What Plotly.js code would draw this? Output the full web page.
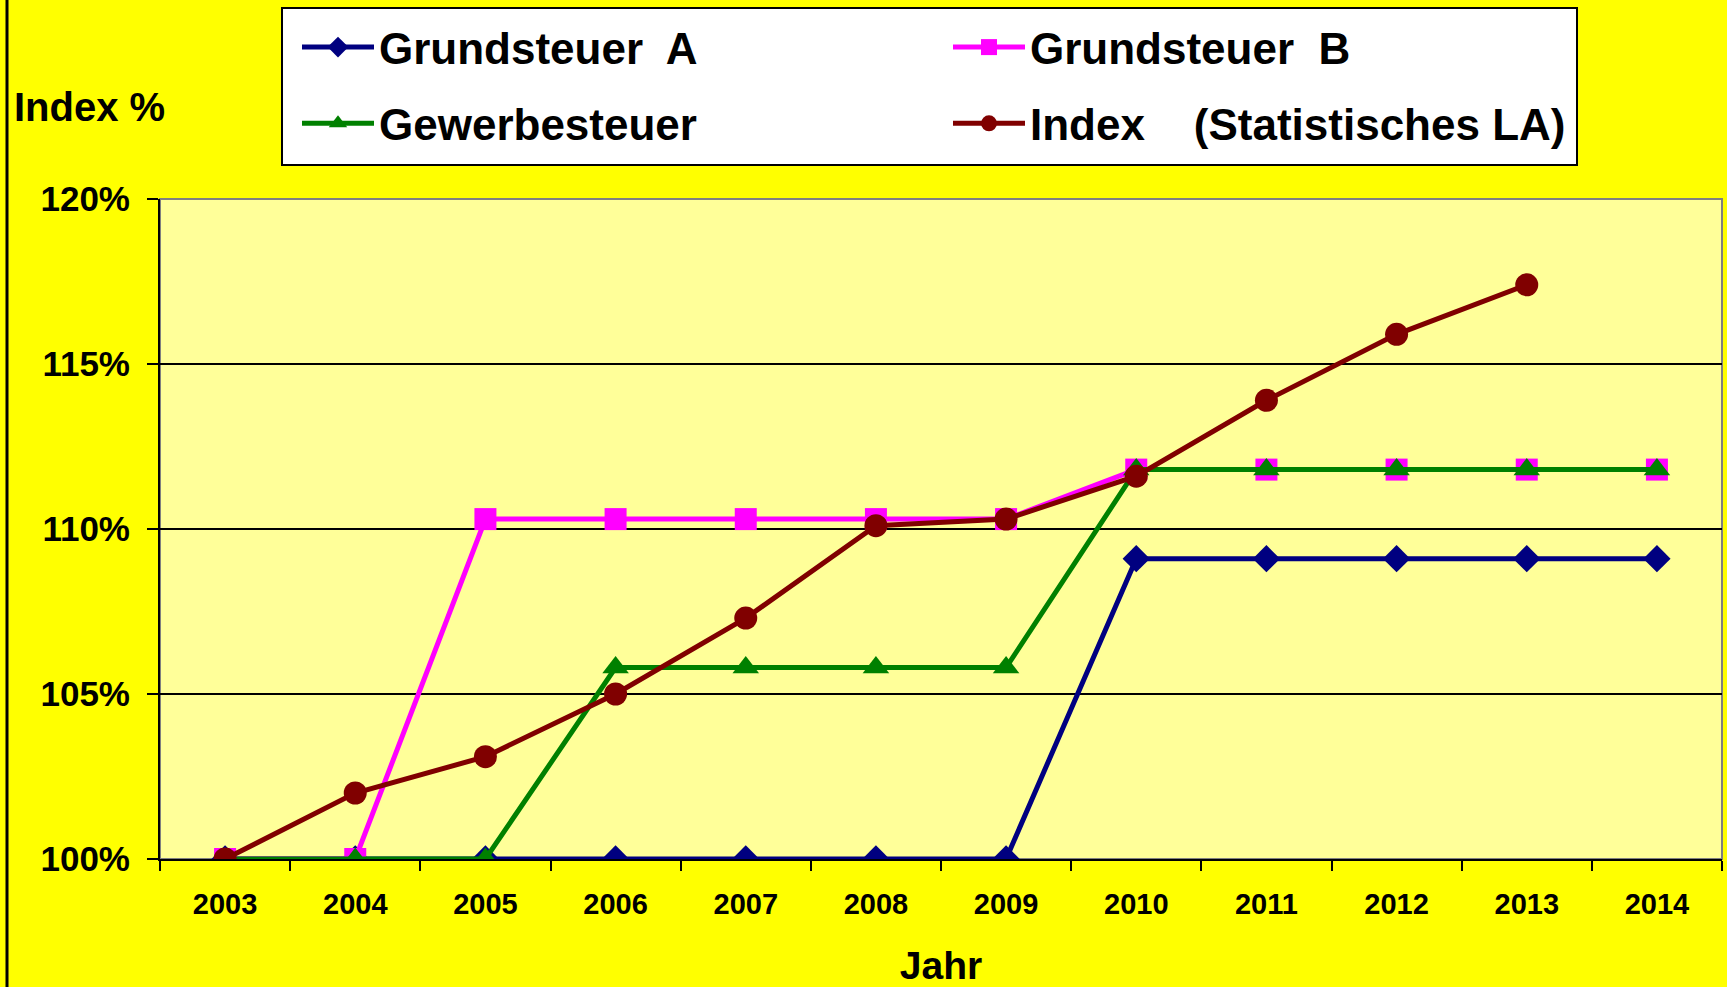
<!DOCTYPE html>
<html>
<head>
<meta charset="utf-8">
<script src="https://cdn.plot.ly/plotly-3.0.1.min.js"></script>
<style>
html,body{margin:0;padding:0;background:#FFFF00;}
#chart{width:1727px;height:987px;}
</style>
</head>
<body>
<div id="chart"></div>
<script>
const years = ['2003','2004','2005','2006','2007','2008','2009','2010','2011','2012','2013','2014'];
const grundsteuerA = [100,100,100,100,100,100,100,109.1,109.1,109.1,109.1,109.1];
const grundsteuerB = [100,100,110.3,110.3,110.3,110.3,110.3,111.8,111.8,111.8,111.8,111.8];
const gewerbesteuer = [100,100,100,105.8,105.8,105.8,105.8,111.8,111.8,111.8,111.8,111.8];
const indexLA = [100,102.0,103.1,105.0,107.3,110.1,110.3,111.6,113.9,115.9,117.4,null];
const yTicks = [100,105,110,115,120];
const yTickText = ['100%','105%','110%','115%','120%'];

const FONT = 'Liberation Sans, Arial, Helvetica, sans-serif';

const W = 1727, H = 987;
const mL = 160, mR = 5, mT = 199, mB = 128;
const pw = W - mL - mR, ph = H - mT - mB;
const px = v => (v - mL) / pw;
const py = v => (H - mB - v) / ph;

const traces = [
  {x: years, y: grundsteuerA, name: 'Grundsteuer  A', type: 'scatter', mode: 'lines+markers',
   line: {color: '#000080', width: 5}, marker: {symbol: 'diamond', size: 21, color: '#000080'},
   legend: 'legend', legendgroup: 'a'},
  {x: years, y: grundsteuerB, name: 'Grundsteuer  B', type: 'scatter', mode: 'lines+markers',
   line: {color: '#FF00FF', width: 5}, marker: {symbol: 'square', size: 22, color: '#FF00FF'},
   legend: 'legend2', legendgroup: 'b'},
  {x: years, y: gewerbesteuer, name: 'Gewerbesteuer', type: 'scatter', mode: 'lines+markers',
   line: {color: '#008000', width: 5}, marker: {symbol: 'triangle-up', size: 23, color: '#008000'},
   legend: 'legend', legendgroup: 'c'},
  {x: years, y: indexLA, name: 'Index    (Statistisches LA)', type: 'scatter', mode: 'lines+markers',
   line: {color: '#800000', width: 5}, marker: {symbol: 'circle', size: 23, color: '#800000'},
   legend: 'legend2', legendgroup: 'd'}
];

const legendCommon = {
  orientation: 'v', bgcolor: 'rgba(0,0,0,0)', borderwidth: 0,
  font: {family: FONT, size: 44, color: '#000', weight: 700},
  itemwidth: 72, traceorder: 'grouped', tracegroupgap: 16,
  xanchor: 'left', yanchor: 'top', itemclick: false, itemdoubleclick: false
};

const layout = {
  width: W, height: H,
  margin: {l: mL, r: mR, t: mT, b: mB, pad: 0},
  paper_bgcolor: '#FFFF00',
  plot_bgcolor: '#FFFF99',
  font: {family: FONT, color: '#000'},
  showlegend: true,
  legend: Object.assign({}, legendCommon, {x: px(297), y: py(12)}),
  legend2: Object.assign({}, legendCommon, {x: px(948), y: py(12)}),
  xaxis: {
    type: 'category', range: [-0.5, 11.5],
    tickson: 'boundaries', ticks: 'outside', ticklen: 10, tickwidth: 2, tickcolor: '#000',
    showline: true, linecolor: '#000', linewidth: 2, showgrid: false, zeroline: false,
    tickfont: {family: FONT, size: 29, color: '#000', weight: 700},
    ticklabelstandoff: 18,
    title: {text: 'Jahr', font: {family: FONT, size: 39, color: '#000', weight: 700}, standoff: 40},
    fixedrange: true
  },
  yaxis: {
    range: [100, 120], tickvals: yTicks, ticktext: yTickText,
    ticks: 'outside', ticklen: 11, tickwidth: 2, tickcolor: '#000',
    showline: true, linecolor: '#000', linewidth: 2,
    showgrid: true, gridcolor: '#000', gridwidth: 2, zeroline: false,
    tickfont: {family: FONT, size: 35, color: '#000', weight: 700},
    ticklabelstandoff: 10,
    fixedrange: true
  },
  shapes: [
    {type: 'rect', xref: 'paper', yref: 'paper', x0: 0, x1: 1, y0: 0, y1: 1,
     line: {color: '#808080', width: 2}, fillcolor: 'rgba(0,0,0,0)', layer: 'below'},
    {type: 'rect', xref: 'paper', yref: 'paper', x0: px(282), x1: px(1577), y0: py(165), y1: py(8),
     line: {color: '#000', width: 2}, fillcolor: '#FFFFFF', layer: 'above'},
    {type: 'line', xref: 'paper', yref: 'paper', x0: px(7), x1: px(7), y0: py(987), y1: py(0),
     line: {color: '#000', width: 3}, layer: 'above'}
  ],
  annotations: [
    {text: 'Index %', xref: 'paper', yref: 'paper', x: px(12), y: py(107),
     xanchor: 'left', yanchor: 'middle', showarrow: false,
     font: {family: FONT, size: 40, color: '#000', weight: 700}}
  ]
};

Plotly.newPlot('chart', traces, layout, {displayModeBar: false, staticPlot: false});
</script>
</body>
</html>
